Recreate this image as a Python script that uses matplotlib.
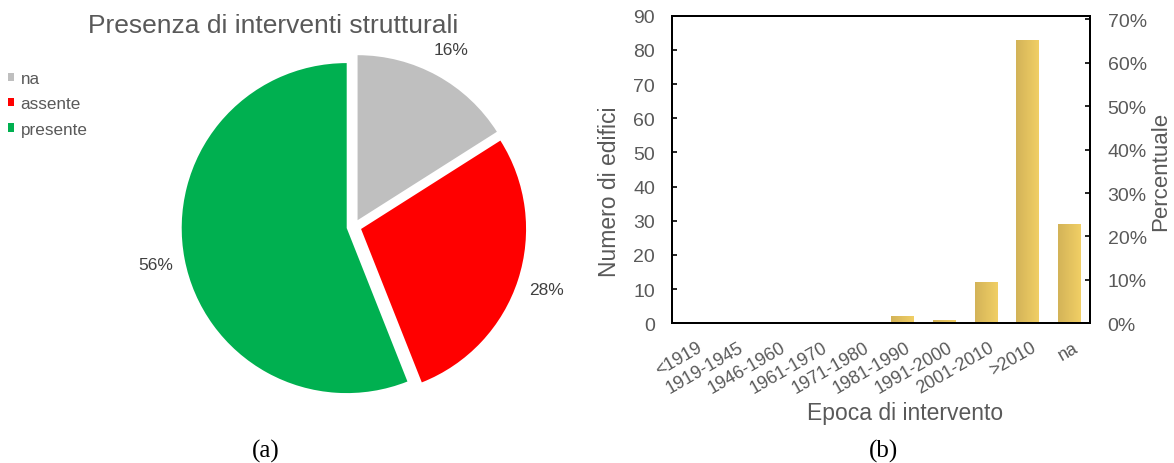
import numpy as np
import matplotlib
matplotlib.use("Agg")
import matplotlib.pyplot as plt
from matplotlib.ticker import PercentFormatter
from matplotlib.colors import LinearSegmentedColormap
from matplotlib.transforms import ScaledTranslation

plt.rcParams['font.family'] = ['Liberation Sans', 'DejaVu Sans']

# ---------------- data ----------------
pie_title = "Presenza di interventi strutturali"
pie_labels = ["na", "assente", "presente"]
pie_values = [16, 28, 56]
pie_colors = ["#BFBFBF", "#FF0000", "#00B050"]

epochs = ["<1919", "1919-1945", "1946-1960", "1961-1970", "1971-1980",
          "1981-1990", "1991-2000", "2001-2010", ">2010", "na"]
counts = [0, 0, 0, 0, 0, 2, 1, 12, 83, 29]

TXT = "#595959"
W, H = 1174, 464
fig = plt.figure(figsize=(W / 100, H / 100), dpi=100)

# ---------------- pie (a) ----------------
L = 1.3
r_px = 165
cx, cy = 354, 227.7
ax_pie = fig.add_axes([(cx - L * r_px) / W, (H - cy - L * r_px) / H,
                       2 * L * r_px / W, 2 * L * r_px / H])
wedges, texts, autotexts = ax_pie.pie(
    pie_values, colors=pie_colors, startangle=90, counterclock=False,
    explode=[0.045] * len(pie_values),
    autopct=lambda p: f"{p:.0f}%", pctdistance=1.18,
    wedgeprops=dict(linewidth=0),
    textprops=dict(color="#404040", fontsize=12.5))
ax_pie.set_xlim(-L, L)
ax_pie.set_ylim(-L, L)
ax_pie.set_aspect('equal')

fig.text(273 / W, 1 - 26 / H, pie_title, ha='center', va='center',
         fontsize=19, color=TXT)

fig.legend(wedges, pie_labels, loc='upper left',
           bbox_to_anchor=(8 / W, 1 - 72 / H), frameon=False,
           fontsize=12.3, handlelength=0.38, handleheight=0.38,
           handletextpad=0.35, labelspacing=0.6, borderpad=0,
           borderaxespad=0, labelcolor=TXT)

# ---------------- bars (b) ----------------
x0, x1 = 672.3, 1090.3
ytop, ybot = 16.7, 324.3
ax = fig.add_axes([x0 / W, (H - ybot) / H, (x1 - x0) / W, (ybot - ytop) / H])
xpos = np.arange(len(epochs))
bars = ax.bar(xpos, counts, width=0.54, color="#E3C25E", zorder=1)

cmap = LinearSegmentedColormap.from_list("gold", ["#D3B358", "#F1CF65"])
grad = np.linspace(0, 1, 256).reshape(1, -1)
for b in bars:
    if b.get_height() <= 0:
        continue
    im = ax.imshow(grad, extent=[b.get_x(), b.get_x() + b.get_width(), 0, b.get_height()],
                   aspect='auto', cmap=cmap, zorder=2, interpolation='bilinear')
    im.set_clip_path(b)

ax.set_xlim(-0.5, len(epochs) - 0.5)
ax.set_ylim(0, 90)
ax.set_aspect('auto')
ax.set_yticks(np.arange(0, 91, 10))
ax.set_xticks(xpos)
ax.set_xticklabels(epochs, rotation=30, ha='right', va='top',
                   rotation_mode='anchor', fontsize=13, color=TXT)
ax.tick_params(axis='x', length=0, pad=11)
ax.tick_params(axis='y', direction='in', length=3.6, width=1.2,
               labelsize=14, labelcolor=TXT, pad=12.3, right=False)
off = ScaledTranslation(3 / 100, 0, fig.dpi_scale_trans)
for lab in ax.get_xticklabels():
    lab.set_transform(lab.get_transform() + off)

total = sum(counts)
ax2 = ax.twinx()
ax2.set_ylim(0, 90 / total)
ax2.set_yticks(np.arange(0, 0.71, 0.1))
ax2.yaxis.set_major_formatter(PercentFormatter(1.0, decimals=0))
ax2.tick_params(axis='y', direction='in', length=3.6, width=1.2,
                labelsize=14, labelcolor=TXT, pad=12.5)
for a in (ax, ax2):
    for s in a.spines.values():
        s.set_linewidth(1.4)
        s.set_color('black')

fig.text(610 / W, 1 - 191.5 / H, "Numero di edifici", rotation=90,
         ha='center', va='center', fontsize=16.5, color=TXT)
fig.text(1161 / W, 1 - 171.5 / H, "Percentuale", rotation=90,
         ha='center', va='center', fontsize=16, color=TXT)
fig.text(905 / W, 1 - 414 / H, "Epoca di intervento",
         ha='center', va='center', fontsize=16.5, color=TXT)

# ---------------- captions ----------------
fig.text(266 / W, 1 - 451 / H, "(a)", ha='center', va='center',
         fontsize=18, family=['Liberation Serif', 'DejaVu Serif'], color='black')
fig.text(884 / W, 1 - 451 / H, "(b)", ha='center', va='center',
         fontsize=18, family=['Liberation Serif', 'DejaVu Serif'], color='black')

fig.savefig("out.png", dpi=100)
